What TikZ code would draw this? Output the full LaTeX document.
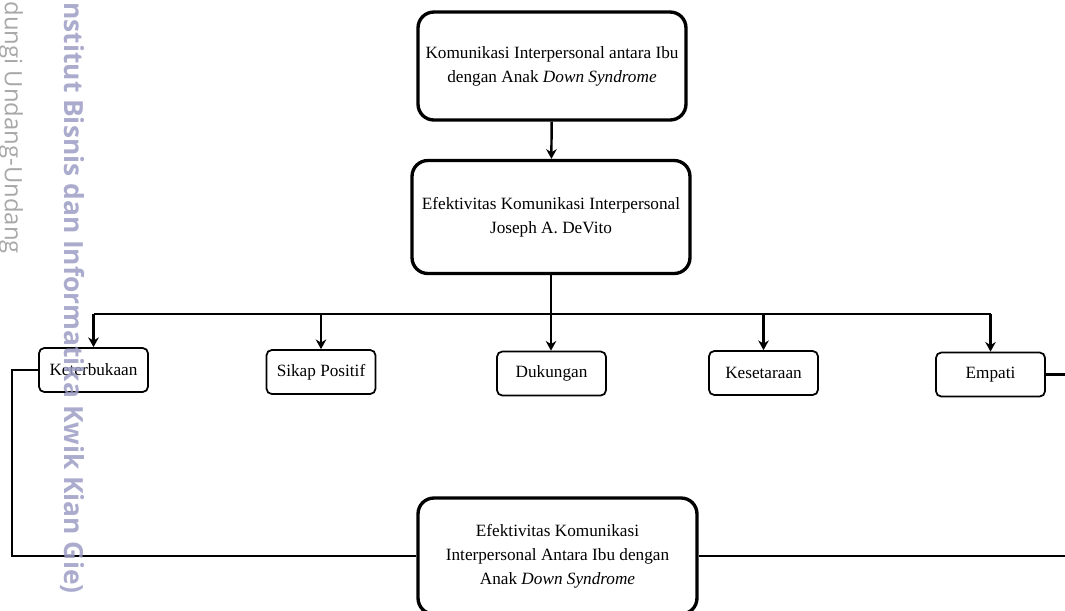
\documentclass[tikz,border=0pt]{standalone}
\usepackage{fontspec}
\setmainfont{Liberation Serif}
\newfontfamily\wmfont{Open Sans}
\usetikzlibrary{positioning, arrows.meta, calc}
\definecolor{wmblue}{HTML}{9C9CC4}
\definecolor{wmgray}{HTML}{A8A8A8}

\begin{document}
\begin{tikzpicture}[x=0.02cm, y=-0.02cm, font=\fontsize{9.8}{13.6}\selectfont,
    bigbox/.style={draw, line width=1.9pt, rounded corners=9pt, fill=white, align=center},
    smallbox/.style={draw, line width=1pt, rounded corners=3pt, fill=white,
          minimum width=2.18cm, minimum height=0.88cm, align=center},
    conn/.style={line width=1.4pt},
    arr/.style={conn, -{Stealth[length=5.5pt, width=6pt]}},
    wmark/.style={rotate=-90, anchor=base west, inner sep=0pt}]
    \useasboundingbox (0,0) rectangle (1065,610);
    \clip (0,0) rectangle (1065,610);
    % main boxes
    \node[bigbox, minimum width=5.36cm, minimum height=2.16cm] (kom) at (552,66)
          {Komunikasi Interpersonal antara Ibu\\dengan Anak \textit{Down Syndrome}};
    \node[bigbox, minimum width=5.56cm, minimum height=2.26cm] (efek) at (551,217)
          {Efektivitas Komunikasi Interpersonal\\Joseph A. DeVito};
    \node[bigbox, minimum width=5.58cm, minimum height=2.32cm] (hasil) at (557.5,556)
          {Efektivitas Komunikasi\\Interpersonal Antara Ibu dengan\\Anak \textit{Down Syndrome}};
    % the five aspects
    \node[smallbox] (ket) at (93.5,370) {Keterbukaan};
    \node[smallbox] (sik) at (321,372) {Sikap Positif};
    \node[smallbox] (duk) at (551.5,373.5) {Dukungan};
    \node[smallbox] (kes) at (763.5,373) {Kesetaraan};
    \node[smallbox] (emp) at (990.5,374.5) {Empati};
    % connectors
    \coordinate (bar) at (551,314);
    \coordinate (lft) at (12,372);
    \coordinate (rgt) at (1090,376);
    \draw[arr] (kom) -- (efek);
    \draw[arr] (efek.south) -- (efek.south |- duk.north);
    \draw[conn] (ket.north |- bar) -- (emp.north |- bar);
    \foreach \n in {ket,sik,kes,emp}
        \draw[arr] (\n.north |- bar) -- (\n.north);
    \draw[conn] (ket.west) -- (lft |- ket.west) |- (hasil.west);
    \draw[conn] (emp.east) -- (rgt |- emp.east) |- (hasil.east);
    % watermark
    \node[wmark, text=wmgray, font=\wmfont\fontsize{13.6}{14}\selectfont] (wm1) at (5,1)
          {dungi Undang-Undang};
    \node[wmark, text=wmblue, opacity=0.85, font=\wmfont\bfseries\fontsize{15}{16}\selectfont] (wm2) at (64,2)
          {nstitut Bisnis dan Informatika Kwik Kian Gie)};
\end{tikzpicture}
\end{document}
